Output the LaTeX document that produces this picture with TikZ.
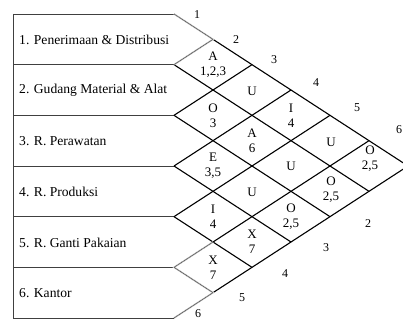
\documentclass[tikz,border=0pt]{standalone}
\usepackage{fontspec}
\setmainfont{Liberation Serif}
\begin{document}
\begin{tikzpicture}[x=1pt,y=-1pt,
  boxline/.style={draw=black!75,line width=0.8pt},
  gridline/.style={draw=black,line width=1.1pt},
  thinline/.style={draw=black!60,line width=0.8pt},
  rowlabel/.style={anchor=west,font=\fontsize{13.6}{15}\selectfont,inner sep=0pt},
  celltxt/.style={font=\fontsize{13}{15}\selectfont,inner sep=0pt,align=center},
  numlbl/.style={font=\fontsize{12}{13}\selectfont,inner sep=0pt}]
\useasboundingbox (0,0) rectangle (403,320);
\begin{scope}
\clip (0,0) rectangle (403,320);
\def\xa{174}\def\dx{39}\def\rh{50.667}\def\hy{25.333}\def\yt{14}
% left boxes
\foreach \k in {0,...,6}{\draw[boxline] (13,{\yt+\rh*\k}) -- (\xa,{\yt+\rh*\k});}
\draw[boxline] (13,\yt) -- (13,{\yt+6*\rh});
% down-right lines
\foreach \k in {0,...,5}{
  \pgfmathsetmacro\s{6-\k}
  \draw[gridline] ({\xa},{\yt+\rh*\k}) -- ({\xa+\dx*\s},{\yt+\rh*\k+\hy*\s});}
% up-right lines
\foreach \k in {1,...,6}{
  \draw[gridline] ({\xa},{\yt+\rh*\k}) -- ({\xa+\dx*\k},{\yt+\rh*\k-\hy*\k});}
% lighter segments
\draw[draw=white,line width=1.6pt] (\xa,\yt) -- ({\xa+\dx},{\yt+\hy}) -- (\xa,{\yt+\rh});
\draw[thinline] (\xa,\yt) -- ({\xa+\dx},{\yt+\hy}) -- (\xa,{\yt+\rh});
\draw[draw=white,line width=1.6pt] ({\xa+\dx},{\yt+4*\rh+\hy}) -- (\xa,{\yt+5*\rh}) -- ({\xa+\dx},{\yt+5*\rh+\hy}) -- (\xa,{\yt+6*\rh});
\draw[thinline] ({\xa+\dx},{\yt+4*\rh+\hy}) -- (\xa,{\yt+5*\rh}) -- ({\xa+\dx},{\yt+5*\rh+\hy}) -- (\xa,{\yt+6*\rh});
\end{scope}
% row labels
\node[rowlabel] (r1) at (19,39.5) {1. Penerimaan \& Distribusi};
\node[rowlabel] (r2) at (19,90) {2. Gudang Material \& Alat};
\node[rowlabel] (r3) at (19,141) {3. R. Perawatan};
\node[rowlabel] (r4) at (19,192) {4. R. Produksi};
\node[rowlabel] (r5) at (19,242.5) {5. R. Ganti Pakaian};
\node[rowlabel] (r6) at (19,293) {6. Kantor};
% cells
\node[celltxt] (c12) at (213,64.7) {A\\1,2,3};
\node[celltxt] (c23) at (213,115.3) {O\\3};
\node[celltxt] (c34) at (213,166) {E\\3,5};
\node[celltxt] (c45) at (213,216.7) {I\\4};
\node[celltxt] (c56) at (213,267.3) {X\\7};
\node[celltxt] (c13) at (252,91) {U};
\node[celltxt] (c24) at (252,141) {A\\6};
\node[celltxt] (c35) at (252,192) {U};
\node[celltxt] (c46) at (252,242) {X\\7};
\node[celltxt] (c14) at (291,115.3) {I\\4};
\node[celltxt] (c25) at (291,166.5) {U};
\node[celltxt] (c36) at (291,216.7) {O\\2,5};
\node[celltxt] (c15) at (331,142) {U};
\node[celltxt] (c26) at (331,190) {O\\2,5};
\node[celltxt] (c16) at (370,159) {O\\2,5};
% outer numbers
\node[numlbl] (t1) at (197,15) {1};
\node[numlbl] (t2) at (236,40) {2};
\node[numlbl] (t3) at (274,60) {3};
\node[numlbl] (t4) at (316,83) {4};
\node[numlbl] (t5) at (357,108) {5};
\node[numlbl] (t6) at (399,130) {6};
\node[numlbl] (b2) at (368,224) {2};
\node[numlbl] (b3) at (326,248) {3};
\node[numlbl] (b4) at (285,274) {4};
\node[numlbl] (b5) at (242,298) {5};
\node[numlbl] (b6) at (198,314) {6};
\end{tikzpicture}
\end{document}
